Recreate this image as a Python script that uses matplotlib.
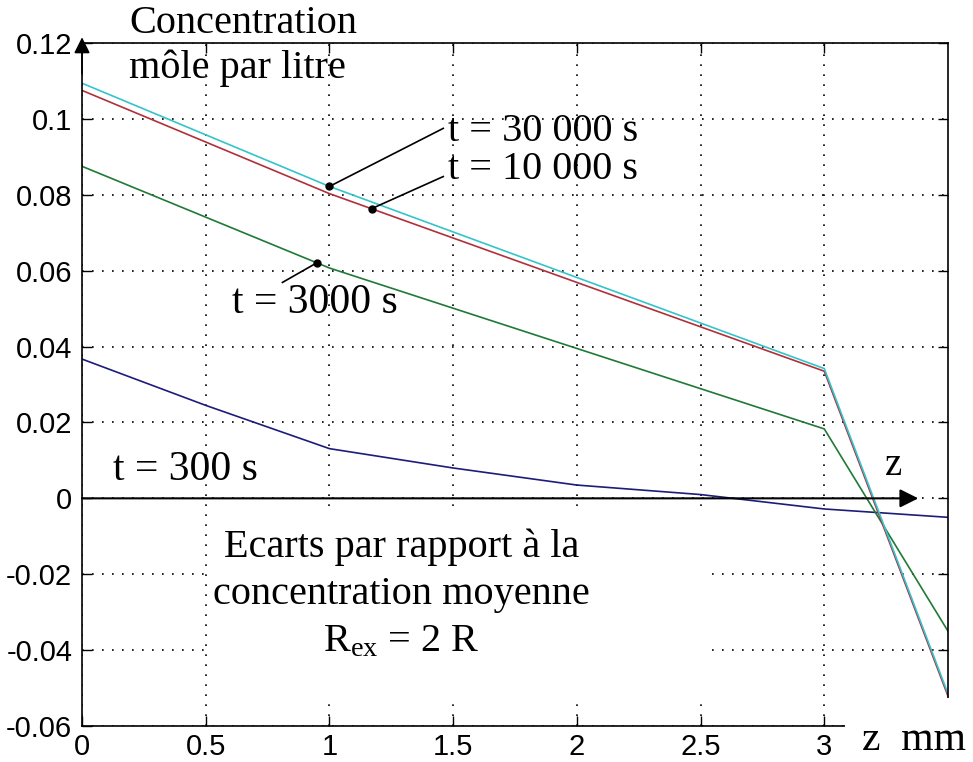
# concentration deviation profiles along z, for several times
import numpy as np
import matplotlib
matplotlib.use("Agg")
import matplotlib.pyplot as plt
from matplotlib.patches import Rectangle

plt.rcParams['font.family'] = ['Liberation Sans', 'DejaVu Sans']
plt.rcParams['mathtext.fontset'] = 'custom'
plt.rcParams['mathtext.rm'] = 'Liberation Serif'
plt.rcParams['mathtext.it'] = 'Liberation Serif:italic'

# values (z in mm, mole per litre)
z_pts = [0, 1, 3, 3.5]
c_30000 = [0.1094, 0.0822, 0.0342, -0.0515]
c_10000 = [0.1075, 0.0803, 0.0335, -0.0521]
c_3000 = [0.0875, 0.0607, 0.0183, -0.0350]
z_300 = [0, 0.5, 1, 1.5, 2, 2.5, 3, 3.5]
c_300 = [0.0367, 0.0245, 0.0131, 0.0080, 0.0035, 0.0010, -0.0028, -0.0050]

x_ticks = [0, 0.5, 1, 1.5, 2, 2.5, 3]
x_labels = ['0', '0.5', '1', '1.5', '2', '2.5', '3']
y_ticks = [-0.06, -0.04, -0.02, 0, 0.02, 0.04, 0.06, 0.08, 0.1, 0.12]
y_labels = ['-0.06', '-0.04', '-0.02', '0', '0.02', '0.04', '0.06', '0.08', '0.1', '0.12']

serif = 'Liberation Serif'

fig = plt.figure(figsize=(9.73, 7.62), dpi=100)
ax = fig.add_axes([0.0843, 0.0472, 0.89, 0.8964])

ax.plot(z_300, c_300, color='#1c1c7a', lw=1.2)
ax.plot(z_pts, c_3000, color='#1f7a35', lw=1.2)
ax.plot(z_pts, c_10000, color='#b0303c', lw=1.2)
ax.plot(z_pts, c_30000, color='#33c4cc', lw=1.2)

ax.set_xlim(0, 3.5)
ax.set_ylim(-0.06, 0.12)
ax.set_xticks(x_ticks)
ax.set_xticklabels(x_labels)
ax.set_yticks(y_ticks)
ax.set_yticklabels(y_labels)
ax.tick_params(direction='in', length=7, width=1, top=True, right=True,
               labelsize=21)
ax.tick_params(axis='y', pad=7)
ax.tick_params(axis='x', pad=5)
for s in ax.spines.values():
    s.set_linewidth(1.2)

ax.set_axisbelow(True)
ax.grid(True, linestyle=(0, (1, 5)), color='k', lw=1.2)

# white box hiding the grid behind the lower caption
ax.add_patch(Rectangle((0.505, -0.0525), 2.02, 0.0505, facecolor='white',
                       edgecolor='none', zorder=1))

# z axis arrow and y axis arrow head
ax.annotate('', xy=(3.38, 0), xytext=(0, 0),
            arrowprops=dict(arrowstyle='-|>', color='k', lw=1.5,
                            mutation_scale=28, shrinkA=0, shrinkB=0))
ax.annotate('', xy=(0, 0.1215), xytext=(0, 0.112),
            arrowprops=dict(arrowstyle='-|>', color='k', lw=1.2,
                            mutation_scale=24, shrinkA=0, shrinkB=0),
            annotation_clip=False)

# labels with pointer lines
pointers = [
    ('t = 30 000 s', 1.0, c_30000, (1.46, 0.0975), (1.48, 0.0968), 29),
    ('t = 10 000 s', 1.17, c_10000, (1.46, 0.0848), (1.48, 0.0866), 29),
    ('t = 3000 s', 0.949, c_3000, (0.81, 0.0569), (0.606, 0.0516), 30),
]
for txt, zx, series, end, pos, fs in pointers:
    yv = np.interp(zx, z_pts, series)
    ax.plot([zx, end[0]], [yv, end[1]], color='k', lw=1.2)
    ax.plot(zx, yv, 'o', color='k', ms=5)
    ax.text(pos[0], pos[1], txt, family=serif, fontsize=fs,
            ha='left', va='center')

ax.text(0.125, 0.0075, 't = 300 s', family=serif, fontsize=30,
        ha='left', va='center')

ax.text(0.19, 0.1300, 'Concentration\nmôle par litre', family=serif,
        fontsize=29, ha='left', va='top', linespacing=1.25, clip_on=False)

ax.text(1.29, -0.0080,
        'Ecarts par rapport à la\nconcentration moyenne\nR$_{\\rm ex}$ = 2 R',
        family=serif, fontsize=29, ha='center', va='top',
        multialignment='center', linespacing=1.35)

ax.text(3.28, 0.0086, 'z', family=serif, fontsize=28, ha='center',
        va='center')

# white corner box with the axis name
fig.patches.append(Rectangle((0.8685, 0), 0.14, 0.084, facecolor='white',
                             edgecolor='none', transform=fig.transFigure,
                             figure=fig, zorder=5))
fig.text(0.886, 0.029, 'z  mm', family=serif, fontsize=30, ha='left',
         va='center', zorder=6)

fig.savefig('out.png', dpi=100)
